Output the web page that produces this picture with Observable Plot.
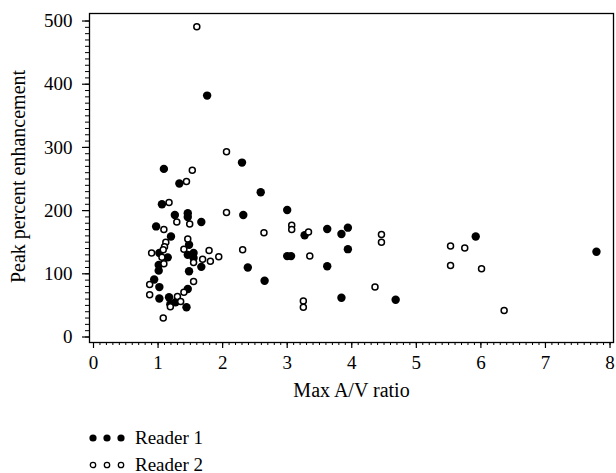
<!DOCTYPE html>
<html><head><meta charset="utf-8">
<script src="https://cdn.jsdelivr.net/npm/d3@7"></script>
<script src="https://cdn.jsdelivr.net/npm/@observablehq/plot@0.6"></script>
<style>
body{margin:0;background:#fff;font-family:"Liberation Serif","Times New Roman",Times,"DejaVu Serif",serif;}
#chart svg{display:block}
#legend{font-size:19px;color:#000;}
.row{height:27px;display:flex;align-items:center;padding-left:88px;}
.row svg{margin-right:9px}
</style></head><body><div id="chart"></div><div id="legend"></div>
<script>
const seriesNames = ["Reader 1", "Reader 2"];
const reader1X = [1.09,1.33,2.30,2.59,1.06,1.26,1.46,1.46,1.67,2.32,0.97,1.20,1.48,1.02,1.15,1.46,1.55,1.55,1.67,2.39,1.01,1.01,1.48,0.94,2.65,1.02,1.46,1.02,1.17,1.19,1.27,1.44,1.76,3.00,3.27,3.62,3.84,3.94,3.94,3.00,3.06,3.62,3.84,4.68,5.92,7.79];
const reader1Y = [266,243,276,229,210,193,196,190,182,193,175,159,146,133,126,130,133,125,111,110,114,105,104,91,89,79,76,61,63,52,55,47,382,201,161,171,163,173,139,128,128,112,62,59,159,135];
const reader2X = [1.60,2.06,1.53,1.44,1.17,2.06,1.29,1.49,1.09,2.64,1.46,1.12,1.10,1.08,0.90,1.40,2.31,1.79,1.69,1.81,1.94,1.55,1.09,1.55,0.87,0.87,1.40,1.30,1.35,1.19,1.08,3.07,3.07,3.33,4.46,4.46,5.53,5.53,3.35,4.36,3.25,3.25,5.75,6.01,6.36,1.06];
const reader2Y = [491,293,264,246,213,197,182,179,170,165,155,150,143,138,133,139,138,137,123,120,127,118,116,88,83,67,71,64,56,48,30,177,170,166,162,150,144,113,128,79,57,47,141,108,42,126];
const xTicks = [0,1,2,3,4,5,6,7,8];
const yTicks = [0,100,200,300,400,500];
const xMinor = d3.range(0, 80.5, 1).map(d => d / 10);
const yMinor = d3.range(0, 501, 10);
const xLabel = "Max A/V ratio";
const yLabel = "Peak percent enhancement";

const r1 = reader1X.map((x, i) => ({x, y: reader1Y[i]}));
const r2 = reader2X.map((x, i) => ({x, y: reader2Y[i]}));

const font = '"Liberation Serif","Times New Roman",Times,"DejaVu Serif",serif';
const chart = Plot.plot({
  width: 616,
  height: 424,
  marginLeft: 89,
  marginRight: 3,
  marginTop: 13,
  marginBottom: 82,
  style: {fontFamily: font, fontSize: "19px", background: "white", color: "black"},
  x: {domain: [-0.062, 8.054]},
  y: {domain: [-8.7, 511.9]},
  marks: [
    Plot.axisX(xMinor, {tickSize: 3, tickFormat: () => "", label: null, strokeWidth: 1}),
    Plot.axisX(xTicks, {tickSize: 6, tickPadding: 7, label: null, fontSize: 19, fontFamily: font, strokeWidth: 1.2}),
    Plot.axisY(yMinor, {tickSize: 4, tickFormat: () => "", label: null, strokeWidth: 1}),
    Plot.axisY(yTicks, {tickSize: 7, tickPadding: 10, label: null, fontSize: 19, fontFamily: font, strokeWidth: 1.2}),
    Plot.frame({stroke: "black", strokeWidth: 1.3}),
    Plot.dot(r1, {x: "x", y: "y", r: 4.2, fill: "black", stroke: "none"}),
    Plot.dot(r2, {x: "x", y: "y", r: 3, fill: "white", stroke: "black", strokeWidth: 1.5}),
    Plot.text([xLabel], {text: d => d, frameAnchor: "bottom", dy: 54, fontSize: 20, fontFamily: font, textAnchor: "middle"}),
    Plot.text([yLabel], {text: d => d, frameAnchor: "left", dx: -70.5, dy: -1.5, rotate: -90, fontSize: 20, fontFamily: font, textAnchor: "middle"})
  ]
});
document.getElementById("chart").append(chart);

const legend = document.getElementById("legend");
seriesNames.forEach((name, k) => {
  const row = document.createElement("div");
  row.className = "row";
  const s = d3.create("svg").attr("width", 38).attr("height", 12);
  [5, 19, 33].forEach(cx => {
    if (k === 0) s.append("circle").attr("cx", cx).attr("cy", 6).attr("r", 3.6).attr("fill", "black");
    else s.append("circle").attr("cx", cx).attr("cy", 6).attr("r", 2.7).attr("fill", "white").attr("stroke", "black").attr("stroke-width", 1.3);
  });
  row.append(s.node());
  const t = document.createElement("span");
  t.textContent = name;
  row.append(t);
  legend.append(row);
});
</script></body></html>
